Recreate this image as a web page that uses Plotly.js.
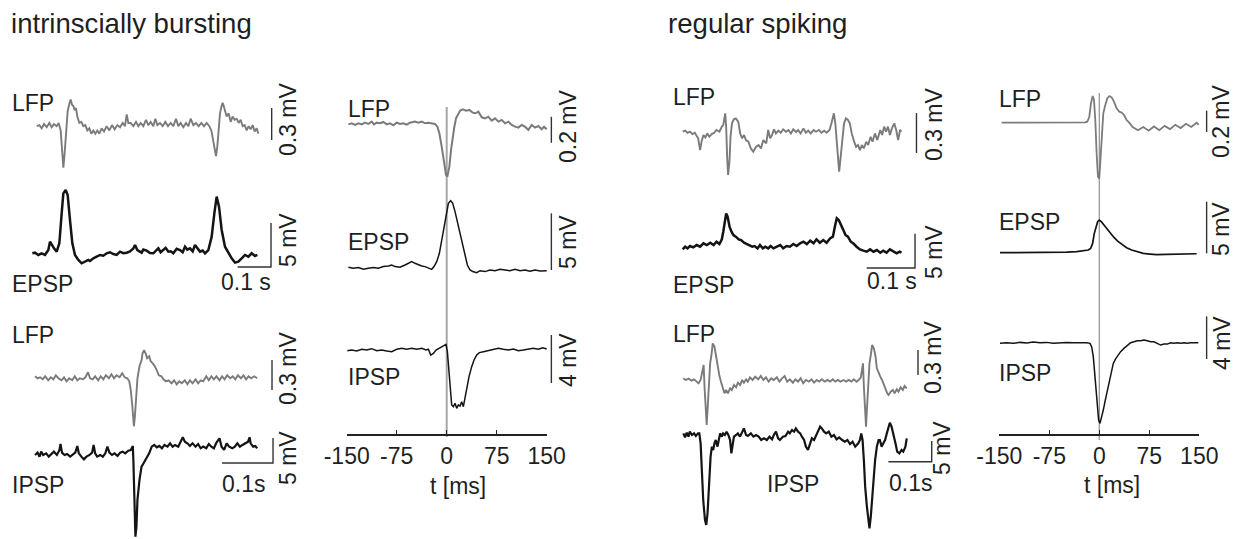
<!DOCTYPE html>
<html><head><meta charset="utf-8">
<script src="https://cdn.plot.ly/plotly-3.0.1.min.js"></script>
<style>html,body{margin:0;padding:0;background:#fff}#chart{width:1239px;height:539px}</style>
</head><body><div id="chart"></div>
<script>
// ================= DATA (time in ms, voltage in mV) =================
// Intrinsically bursting – raw traces, upper pair (LFP + EPSP)
const ibRawLfpA = [[0,0.02],[8,0.03],[15,0],[22,0.04],[30,0.01],[38,0.05],[45,0.01],[52,0.04],[60,0.02],[66,0.05],[72,-0.02],[76,-0.17],[80,-0.37],[84,-0.23],[88,-0.05],[93,0.16],[98,0.23],[102,0.27],[106,0.22],[110,0.21],[114,0.17],[118,0.19],[122,0.11],[128,0.05],[134,0.06],[140,0.02],[146,0.03],[152,-0.02],[158,0],[164,-0.05],[170,-0.02],[176,-0.05],[182,-0.02],[188,-0.05],[195,0],[202,-0.03],[210,0.02],[218,-0.02],[226,0.03],[234,-0.01],[242,0.03],[250,0.01],[258,0.05],[265,0.02],[270,0.13],[275,0.05],[282,0.05],[290,0.02],[298,0.06],[305,0.02],[312,0.05],[320,0.02],[328,0.08],[335,0.03],[342,0.06],[350,0.02],[356,0.09],[362,0.03],[370,0.05],[378,0.02],[386,0.06],[394,0.02],[402,0.05],[410,0.02],[418,0.09],[425,0.02],[432,0.05],[440,0.01],[448,0.05],[455,0.02],[462,0.09],[470,0.03],[478,0.05],[486,0.02],[494,0.05],[502,0.02],[510,0.05],[518,0.02],[524,-0.02],[530,-0.11],[534,-0.2],[538,-0.26],[542,-0.17],[546,-0.02],[550,0.14],[554,0.2],[558,0.24],[562,0.2],[566,0.16],[570,0.11],[576,0.14],[582,0.06],[588,0.11],[594,0.08],[600,0.09],[606,0.05],[612,0.08],[618,0.02],[624,0.03],[630,-0.02],[636,0.02],[642,-0.01],[648,0.03],[654,-0.03],[660,0],[665,-0.05]];
const ibRawEpsp = [[-13,0.08],[-5,0.15],[5,-0.11],[15,0.08],[25,-0.11],[35,0.45],[40,1.4],[45,1.02],[52,0.64],[60,0.27],[68,1.21],[75,4.62],[80,6.89],[87,7.27],[93,6.7],[100,3.86],[107,1.21],[115,-0.11],[125,-0.68],[135,-1.06],[145,-0.87],[155,-0.68],[160,-0.8],[170,-0.49],[180,-0.3],[190,-0.11],[200,-0.2],[210,0.08],[220,0.2],[230,0],[240,-0.1],[250,0.27],[260,0.1],[270,0.15],[280,0.3],[290,0.64],[295,1.02],[302,0.45],[315,0.15],[320,0.5],[330,0.38],[340,0.1],[350,0.08],[357,0.4],[365,0.64],[372,0.2],[380,0.45],[387,0.7],[395,0.27],[402,0.3],[410,0.08],[420,0.6],[430,0.45],[438,0.2],[445,0.83],[452,0.5],[460,0.64],[468,0.3],[475,1.02],[482,0.7],[490,0.27],[498,0.4],[505,0.08],[515,0.45],[525,1.97],[533,4.62],[540,6.52],[547,5.38],[555,2.73],[565,0.83],[575,0.08],[585,-0.49],[595,-0.98],[605,-0.87],[615,-0.49],[625,-0.11],[635,-0.3],[645,0.08],[655,-0.23],[662,-0.11]];
// Intrinsically bursting – raw traces, lower pair (LFP + IPSP)
const ibRawLfpB = [[0,0.01],[5,-0.01],[10,0],[15,-0.02],[20,0.01],[26,-0.03],[31,0],[36,-0.02],[41,0.02],[46,-0.01],[52,-0.03],[57,0],[62,-0.04],[67,-0.01],[73,-0.03],[78,0.01],[83,-0.03],[88,-0.01],[94,-0.02],[99,0],[104,0.05],[108,-0.01],[113,-0.02],[118,0.01],[124,-0.03],[129,0.01],[134,-0.02],[139,0.02],[145,-0.01],[150,0.03],[155,-0.01],[160,0.02],[166,0],[171,0.04],[176,0],[181,-0.01],[185,-0.04],[188,-0.13],[191,-0.29],[194,-0.49],[196,-0.39],[198,-0.19],[201,-0.01],[205,0.11],[209,0.17],[211,0.24],[214,0.27],[217,0.24],[220,0.19],[224,0.21],[227,0.16],[231,0.14],[234,0.12],[239,0.07],[243,0.02],[248,0.01],[252,-0.02],[257,-0.04],[262,-0.03],[268,-0.06],[273,-0.03],[278,-0.07],[283,-0.04],[288,-0.06],[294,-0.03],[299,-0.07],[304,-0.03],[309,-0.06],[315,-0.02],[320,-0.06],[325,-0.03],[330,-0.04],[336,0.01],[341,-0.03],[346,0.01],[351,-0.02],[356,0.01],[362,-0.03],[367,0.01],[372,-0.02],[377,0.02],[383,-0.01],[388,0.01],[393,-0.02],[398,0.02],[404,-0.01],[409,0.02],[414,-0.02],[419,0.01],[424,-0.01],[430,0.01],[436,-0.01]];
const ibRawIpsp = [[0,-0.33],[5,0.13],[9,-0.67],[12,0.33],[16,-0.33],[22,0],[27,-0.67],[32,-0.13],[37,0.33],[43,-0.33],[48,0.67],[50,1.87],[53,0.13],[58,-0.33],[63,-0.13],[69,-0.67],[74,-0.33],[79,0.13],[83,1.47],[86,0],[91,-0.67],[96,-1.2],[101,-0.67],[107,-0.33],[112,0.13],[115,1.67],[118,0],[122,-0.67],[128,-0.33],[133,-0.67],[138,0],[142,1.33],[146,0.13],[151,-0.33],[156,0],[162,-0.53],[167,0.13],[172,0.33],[177,0],[183,0.53],[188,0.67],[192,1.47],[193,-1.33],[195,-9.33],[197,-16.67],[199,-14.67],[201,-9.33],[205,-5.33],[209,-2.67],[213,-2],[216,-1.47],[219,-0.67],[224,0],[229,1.33],[234,1.67],[239,1.2],[244,1.47],[249,1],[254,1.67],[260,1.33],[265,2],[270,1.33],[275,1.67],[281,1.33],[286,2.33],[290,3.2],[294,2.33],[299,2],[304,1.47],[309,2],[315,1.33],[320,1.87],[325,1],[330,1.33],[336,1],[341,1.87],[346,1.33],[351,1],[356,2.13],[362,3],[366,1.33],[371,0.67],[376,2],[381,1.33],[387,1],[392,1.33],[397,2],[402,1.33],[407,1.67],[413,2],[418,2.33],[421,3.2],[423,2],[428,1.33],[432,1.47],[436,1]];
// Intrinsically bursting – spike-triggered averages (t relative to LFP spike)
const ibAvgLfp = [[-147.5,-0.008],[-142.5,0],[-137.5,-0.013],[-132.5,0],[-127.5,-0.008],[-122.5,0.005],[-117.5,-0.005],[-112.5,0.013],[-109,-0.008],[-105,0.005],[-100,0],[-95,0.01],[-90,-0.008],[-85,0],[-80,-0.015],[-75,0.005],[-70,-0.005],[-65,0],[-60,-0.01],[-55,0.005],[-47.5,0.013],[-42.5,0.005],[-37.5,0.013],[-32.5,0],[-27.5,0.005],[-22.5,0],[-17.5,-0.005],[-14,-0.026],[-11,-0.077],[-7.5,-0.18],[-4,-0.308],[-1,-0.397],[1,-0.41],[4,-0.333],[6.5,-0.205],[9,-0.103],[11.5,-0.026],[14,0.038],[17.5,0.077],[20,0.097],[24,0.108],[29,0.097],[34,0.103],[39,0.082],[43,0.077],[47.5,0.09],[52.5,0.046],[57.5,0.038],[62.5,0.051],[67.5,0.021],[72.5,0.038],[77.5,0.013],[82.5,0.026],[87.5,0],[92.5,0.013],[97.5,-0.013],[102.5,-0.026],[107.5,-0.033],[112.5,-0.013],[117.5,-0.026],[122.5,-0.051],[127.5,-0.013],[132.5,-0.033],[137.5,-0.021],[142.5,-0.046],[146,-0.026],[150,-0.046]];
const ibAvgEpsp = [[-147.5,0.09],[-140,0],[-132.5,0.06],[-125,-0.09],[-117.5,0],[-110,0.06],[-102.5,0],[-95,0.15],[-87.5,0.21],[-82.5,0.29],[-77.5,0.15],[-70,0.09],[-62.5,0.29],[-57.5,0.44],[-52.5,0.59],[-47.5,0.44],[-42.5,0.29],[-37.5,0.21],[-32.5,0.15],[-27.5,0],[-22.5,-0.09],[-19,0.15],[-15,0.59],[-11,1.32],[-7.5,2.5],[-4,3.68],[-1,4.85],[2.5,5.74],[6,5.97],[9,5.74],[12.5,5],[16,4.12],[20,3.09],[24,2.06],[27.5,1.18],[31,0.29],[35,-0.15],[39,-0.29],[45,-0.38],[50,-0.21],[57.5,-0.29],[65,-0.15],[72.5,-0.21],[80,-0.09],[87.5,-0.15],[95,-0.21],[102.5,-0.09],[110,-0.21],[117.5,-0.15],[125,-0.26],[132.5,-0.15],[140,-0.24],[150,-0.21]];
const ibAvgIpsp = [[-149,-0.06],[-142.5,0],[-135,-0.08],[-127.5,0.06],[-120,0],[-112.5,0.11],[-105,-0.06],[-97.5,0],[-90,-0.08],[-82.5,-0.14],[-75,0.06],[-67.5,0.14],[-60,0.06],[-52.5,0.14],[-45,0.06],[-37.5,0.14],[-31,0],[-27.5,0.06],[-24,-0.42],[-20,-0.28],[-16,0],[-11,0.14],[-7,0.28],[-4,0.33],[-1,0.47],[1,-0.14],[3,-1.39],[5,-3.33],[7.5,-4.58],[10,-4.72],[12.5,-4.44],[15,-4.86],[17.5,-4.58],[20,-4.67],[22.5,-4.31],[25,-4.72],[27.5,-4.03],[30,-3.06],[33.5,-2.22],[37.5,-1.39],[41,-0.83],[45,-0.42],[49,-0.22],[55,-0.14],[62.5,-0.06],[70,0],[77.5,0.14],[85,0.06],[92.5,0],[100,0.08],[107.5,-0.06],[115,0],[122.5,0.08],[130,0.14],[137.5,0.06],[144,0.19],[150,0.08]];
// Regular spiking – raw traces, upper pair (LFP + EPSP)
const rsRawLfpA = [[0,0],[5,0.008],[10,-0.008],[15,0],[20,-0.018],[25,-0.008],[29,-0.033],[32,-0.05],[36,-0.138],[39,-0.075],[43,-0.025],[47,-0.043],[51,-0.013],[55,-0.038],[60,-0.018],[65,-0.008],[70,0.013],[76,0],[81,0.038],[84,0.05],[88,0.138],[90,0.038],[92,-0.188],[94,-0.325],[97,-0.213],[99,-0.038],[102,0.063],[106,0.093],[110,0.1],[115,0.075],[119,-0.013],[123,-0.05],[127,-0.025],[131,-0.063],[136,-0.075],[141,-0.125],[146,-0.15],[152,-0.113],[157,-0.1],[162,-0.125],[167,-0.063],[173,-0.088],[177,0.013],[181,-0.05],[185,-0.025],[189,0.018],[193,-0.013],[198,0.008],[203,-0.008],[208,0.018],[214,0],[219,0.013],[224,-0.013],[229,0.018],[235,-0.003],[239,0.013],[244,-0.013],[250,0.025],[255,-0.008],[260,0.008],[265,-0.013],[271,0.013],[276,0],[282,0.013],[287,-0.008],[293,0.008],[298,-0.008],[304,0.013],[308,0.063],[311,0.125],[313,0.138],[316,0.063],[319,-0.05],[322,-0.213],[324,-0.3],[327,-0.188],[331,-0.025],[334,0.063],[338,0.1],[342,0.088],[346,0.063],[350,-0.013],[355,-0.075],[359,-0.113],[363,-0.1],[367,-0.138],[371,-0.1],[375,-0.125],[380,-0.075],[384,-0.1],[389,-0.038],[393,-0.075],[398,-0.013],[403,-0.063],[409,0.013],[413,-0.025],[417,0.038],[421,0],[425,0.038],[429,-0.025],[433,0.025],[438,0.063],[442,0.013],[446,-0.063],[450,0.013],[453,0]];
const rsRawEpsp = [[0,-0.39],[5,0],[10,-0.24],[15,0.1],[22,-0.1],[29,0.24],[36,0],[43,0.49],[50,0.24],[57,0.58],[64,0.24],[70,0.73],[76,0.39],[81,1.07],[84,2.18],[88,3.88],[90,4.85],[93,4.37],[97,2.91],[101,2.18],[105,1.7],[110,1.46],[116,1.07],[121,0.97],[127,0.58],[133,0.39],[138,0.24],[144,0],[149,0.1],[155,-0.24],[160,0.24],[166,-0.24],[171,0],[177,-0.24],[182,0.1],[188,-0.24],[195,0],[202,0.24],[208,-0.24],[215,0.1],[222,0],[229,0.39],[236,0.1],[243,0.49],[250,0.73],[257,0.39],[264,0.87],[271,0.49],[277,1.07],[284,0.58],[291,0.97],[298,0.58],[305,1.21],[311,1.46],[315,2.91],[319,4.13],[323,3.88],[327,3.16],[331,2.67],[337,1.7],[342,1.46],[348,0.73],[353,0.49],[360,0],[367,-0.39],[374,-0.58],[381,-0.73],[388,-0.39],[395,-0.73],[402,-0.49],[409,-0.87],[415,-0.58],[422,-0.87],[429,-0.39],[436,-0.73],[443,-0.97],[449,-0.73],[453,-0.87]];
// Regular spiking – raw traces, lower pair (LFP + IPSP)
const rsRawLfpB = [[0,0.02],[6,0],[12,0.016],[19,-0.008],[25,0.008],[31,-0.02],[35,-0.04],[40,0],[45,0.16],[47,0.18],[49,-0.08],[52,-0.36],[54,-0.54],[56,-0.36],[59,-0.04],[62,0.2],[65,0.3],[68,0.44],[72,0.4],[76,0.28],[79,0.16],[83,0.06],[87,-0.02],[91,-0.1],[95,-0.16],[99,-0.12],[103,-0.16],[108,-0.1],[112,-0.12],[117,-0.06],[122,-0.088],[126,-0.032],[131,-0.06],[136,0],[140,-0.032],[145,0.008],[149,-0.02],[154,0.032],[160,0],[166,0.04],[173,0.008],[179,0.048],[185,0],[191,0.032],[197,-0.02],[203,0.02],[209,0],[216,0.032],[222,-0.02],[228,0.02],[234,0.048],[240,-0.02],[246,0.008],[253,-0.032],[259,0.008],[265,-0.02],[271,0.02],[277,-0.04],[283,0],[290,-0.02],[296,0.008],[302,-0.032],[308,0],[314,-0.02],[320,0.008],[327,-0.02],[333,0],[339,-0.02],[345,0.008],[351,-0.02],[357,0],[363,-0.02],[370,0],[376,-0.02],[382,0],[388,-0.02],[394,0.008],[400,-0.02],[405,0],[410,0.032],[413,0.18],[415,0.2],[417,-0.08],[420,-0.36],[422,-0.56],[424,-0.36],[427,-0.04],[430,0.2],[433,0.3],[436,0.42],[440,0.38],[444,0.28],[447,0.14],[451,0.08],[455,0.04],[459,0],[463,-0.06],[467,-0.1],[471,-0.16],[474,-0.18],[479,-0.14],[484,-0.12],[488,-0.16],[493,-0.112],[497,-0.14],[502,-0.088],[507,-0.12],[511,-0.072],[516,-0.1]];
const rsRawIpsp = [[0,0.4],[4,-0.56],[8,0.56],[12,-0.4],[15,0.81],[20,0],[25,0.4],[29,-0.24],[34,0.4],[37,0.4],[40,-2.02],[43,-9.27],[46,-15.73],[50,-20.56],[53,-21.77],[56,-18.95],[59,-12.5],[63,-5.24],[66,-2.82],[69,-3.63],[72,-2.02],[75,-1.21],[79,-2.82],[82,-1.21],[85,0.4],[89,-0.4],[92,0.4],[96,0],[100,0.81],[104,0],[108,-1.21],[111,-4.44],[114,-2.82],[117,-0.4],[122,0],[126,0.4],[131,-0.4],[137,1.21],[140,1.61],[145,0],[149,-0.24],[156,0.4],[162,-0.4],[168,0],[174,-0.4],[180,-1.21],[186,-0.81],[193,-1.21],[199,-0.4],[205,-1.05],[209,0],[214,0.81],[219,-0.81],[223,-1.21],[230,-0.4],[236,-0.24],[242,0.81],[246,0.4],[251,1.21],[256,0.81],[260,1.61],[265,0.81],[270,0.4],[274,-0.4],[279,-1.21],[283,-2.82],[288,-3.63],[293,-2.02],[297,-0.81],[302,-1.21],[307,0],[311,1.21],[316,2.02],[320,1.61],[325,0.81],[330,0.4],[336,0.81],[342,-0.4],[348,0],[354,-1.05],[360,-0.56],[367,-1.21],[373,-1.61],[379,-1.21],[385,-2.18],[391,-1.61],[397,-2.82],[404,-2.02],[408,-1.21],[411,0.4],[414,-1.21],[417,-6.05],[420,-12.5],[424,-17.34],[427,-20.56],[430,-22.58],[433,-19.76],[436,-14.92],[439,-10.08],[443,-6.05],[447,-2.82],[451,-1.21],[454,-1.21],[458,-2.82],[462,-2.02],[466,-1.21],[470,0.4],[474,2.02],[477,2.98],[481,2.02],[485,0.4],[490,-2.02],[494,-4.03],[499,-4.44],[504,-3.63],[508,-4.03],[513,-2.82],[516,-0.81]];
// Regular spiking – spike-triggered averages
const rsAvgLfp = [[-146.5,0],[-139,0],[-129,0.003],[-119,0],[-109,0],[-99,0.003],[-89,0],[-79,0.003],[-69,0],[-59,0],[-49,0.003],[-39,0],[-29,0],[-21.5,0.003],[-18,0.009],[-15,0.056],[-12.5,0.181],[-10,0.25],[-8,0.213],[-6,0.025],[-4,-0.288],[-2,-0.506],[0,-0.522],[2,-0.35],[4,-0.1],[6,0.088],[9,0.166],[12,0.228],[15,0.25],[18.5,0.238],[22,0.197],[26,0.134],[30,0.103],[34,0.094],[37,0.072],[41,0.025],[45,0],[50,-0.04],[58,-0.07],[66,-0.04],[74,-0.075],[82,-0.035],[90,-0.07],[98,-0.03],[106,-0.06],[114,-0.02],[122,-0.05],[130,-0.01],[138,-0.04],[146,0],[149,-0.02]];
const rsAvgEpsp = [[-149,0],[-129,0],[-109,0.03],[-89,0],[-69,0.03],[-49,0.06],[-34,0.1],[-24,0.16],[-16.5,0.26],[-13,0.42],[-10,0.9],[-7.5,1.87],[-5,2.52],[-2.5,3],[0,3.16],[3,3],[7,2.68],[12,2.26],[17,1.87],[22,1.48],[28,1.1],[34,0.77],[41,0.48],[48.5,0.26],[56,0.1],[66,-0.06],[76,-0.13],[86,-0.19],[101,-0.16],[116,-0.13],[131,-0.13],[146,-0.1]];
const rsAvgIpsp = [[-149,-0.06],[-139,0],[-129,-0.06],[-119,0.03],[-109,-0.03],[-99,0.06],[-89,0],[-79,0.03],[-69,-0.06],[-59,0],[-49,0.03],[-39,0],[-29,0.03],[-19,0],[-14,-0.06],[-11.5,-0.38],[-9,-1.31],[-7,-2.88],[-5,-4.75],[-3,-6.31],[-1,-7.25],[1,-7.56],[3,-7.09],[6,-6.31],[9,-5.38],[12,-4.44],[15,-3.5],[18,-2.56],[21,-1.94],[24,-1.56],[28,-1.16],[32,-0.84],[37,-0.53],[42,-0.22],[47,0],[52,0.09],[57,0.19],[62,0.19],[67,0.25],[72,0.19],[77,0.09],[82,0.09],[87,-0.06],[92,-0.22],[97,-0.13],[102,-0.13],[107,0],[112,-0.06],[117,0],[122,-0.06],[127,0],[132,-0.06],[137,0],[142,-0.03],[148.5,0]];

// tick labels, titles, labels, scale bar sizes
const timeTickVals = [-150, -75, 0, 75, 150];
const timeTickText = ['-150', '-75', '0', '75', '150'];
const timeAxisTitle = 't [ms]';
const panelTitles = ['intrinscially bursting', 'regular spiking'];
const scaleBarSizes = { lfpRaw: 0.3, lfpAvg: 0.2, pspRaw: 5, epspAvg: 5, ipspAvg: 4, time: 100 };

// ================= GEOMETRY / STYLE =================
const W = 1239, H = 539;
const FONT = '"Liberation Sans", Arial, Helvetica, sans-serif';
const TXT = '#1f1f1f';
const GRAY = '#7b7b7b', BLACK = '#141414', BAR = '#333';

// time groups: pixel of t=0 and pixels per ms
const groups = [
  { px0: 36.67, k: 1/3 },     // x  : IB raw upper
  { px0: 35.0,  k: 0.5097 },  // x2 : IB raw lower
  { px0: 446.7, k: 2/3 },     // x3 : IB averages
  { px0: 682.7, k: 0.483 },   // x4 : RS raw upper
  { px0: 683.3, k: 0.433 },   // x5 : RS raw lower
  { px0: 1099.3, k: 2/3 }     // x6 : RS averages
];

// each trace: data, group, baseline pixel, pixels per mV, colour, width, scale bar
const specs = [
  { d: ibRawLfpA, g: 0, pyb: 128.3, s: 106.7, c: GRAY,  w: 1.9, bar: { t: 705, v0: -0.11, len: scaleBarSizes.lfpRaw } },
  { d: ibRawEpsp, g: 0, pyb: 254.0, s: 8.8,   c: BLACK, w: 2.5, bar: { t: 703, v0: -1.48, len: scaleBarSizes.pspRaw, tlen: scaleBarSizes.time } },
  { d: ibRawLfpB, g: 1, pyb: 377.3, s: 100,   c: GRAY,  w: 1.9, bar: { t: 465, v0: -0.127, len: scaleBarSizes.lfpRaw } },
  { d: ibRawIpsp, g: 1, pyb: 453.3, s: 5,     c: BLACK, w: 2.2, bar: { t: 467, v0: -1.94, len: scaleBarSizes.pspRaw, tlen: scaleBarSizes.time } },
  { d: ibAvgLfp,  g: 2, pyb: 123.3, s: 130,   c: GRAY,  w: 2.0, bar: { t: 157, v0: -0.15, len: scaleBarSizes.lfpAvg } },
  { d: ibAvgEpsp, g: 2, pyb: 268.3, s: 11.33, c: BLACK, w: 1.5, bar: { t: 157, v0: -0.15, len: scaleBarSizes.epspAvg } },
  { d: ibAvgIpsp, g: 2, pyb: 350.0, s: 12,    c: BLACK, w: 1.5, bar: { t: 157, v0: -2.75, len: scaleBarSizes.ipspAvg } },
  { d: rsRawLfpA, g: 3, pyb: 131.7, s: 133.3, c: GRAY,  w: 1.9, bar: { t: 484, v0: -0.16, len: scaleBarSizes.lfpRaw } },
  { d: rsRawEpsp, g: 3, pyb: 246.7, s: 6.87,  c: BLACK, w: 2.5, bar: { t: 481, v0: -3.1, len: scaleBarSizes.pspRaw, tlen: scaleBarSizes.time } },
  { d: rsRawLfpB, g: 4, pyb: 380.0, s: 83.3,  c: GRAY,  w: 1.9, bar: { t: 542, v0: 0.06, len: scaleBarSizes.lfpRaw } },
  { d: rsRawIpsp, g: 4, pyb: 435.0, s: 4.13,  c: BLACK, w: 2.2, bar: { t: 573.7, v0: -6.46, len: scaleBarSizes.pspRaw, tlen: scaleBarSizes.time } },
  { d: rsAvgLfp,  g: 5, pyb: 122.7, s: 106.7, c: GRAY,  w: 1.8, bar: { t: 161, v0: -0.087, len: scaleBarSizes.lfpAvg } },
  { d: rsAvgEpsp, g: 5, pyb: 252.7, s: 10.33, c: BLACK, w: 1.7, bar: { t: 161, v0: -0.06, len: scaleBarSizes.epspAvg } },
  { d: rsAvgIpsp, g: 5, pyb: 342.7, s: 10.67, c: BLACK, w: 1.5, bar: { t: 161, v0: -1.53, len: scaleBarSizes.ipspAvg } }
];

const axName = (letter, n) => n === 1 ? letter + 'axis' : letter + 'axis' + n;
const axId = (letter, n) => n === 1 ? letter : letter + n;

const layout = {
  width: W, height: H, autosize: false,
  margin: { l: 0, r: 0, t: 0, b: 0, pad: 0 },
  paper_bgcolor: '#ffffff', plot_bgcolor: 'rgba(0,0,0,0)',
  showlegend: false, hovermode: false,
  font: { family: FONT, color: TXT },
  annotations: [], shapes: []
};
const traces = [];

groups.forEach((g, i) => {
  layout[axName('x', i + 1)] = { domain: [0, 1], range: [-g.px0 / g.k, (W - g.px0) / g.k], visible: false, fixedrange: true };
});

specs.forEach((sp, i) => {
  const yn = i + 1;
  layout[axName('y', yn)] = { domain: [0, 1], range: [(sp.pyb - H) / sp.s, sp.pyb / sp.s], visible: false, fixedrange: true };
  const xid = axId('x', sp.g + 1), yid = axId('y', yn);
  traces.push({ type: 'scatter', mode: 'lines', x: sp.d.map(p => p[0]), y: sp.d.map(p => p[1]),
    xaxis: xid, yaxis: yid, line: { color: sp.c, width: sp.w, shape: 'linear' }, hoverinfo: 'skip' });
  const b = sp.bar;
  const bx = [b.t, b.t], by = [b.v0 + b.len, b.v0];
  if (b.tlen) { bx.push(b.t - b.tlen); by.push(b.v0); }
  traces.push({ type: 'scatter', mode: 'lines', x: bx, y: by, xaxis: xid, yaxis: yid,
    line: { color: BAR, width: 1.4 }, hoverinfo: 'skip' });
});

// visible time axes for the two averaged panels
const axBottomPx = 434;
[[2, 7, 15], [5, 8, 16]].forEach(([gi, xn, yn]) => {
  const g = groups[gi];
  const left = g.px0 - 150 * g.k, right = g.px0 + 150 * g.k;
  layout[axName('x', xn)] = {
    domain: [left / W, right / W], range: [-150, 150], anchor: axId('y', yn),
    showline: true, linecolor: '#222', linewidth: 1.5, mirror: false,
    ticks: 'inside', ticklen: 4, tickwidth: 1.3, tickcolor: '#222',
    tickvals: timeTickVals, ticktext: timeTickText, ticklabelstandoff: 1,
    tickfont: { family: FONT, size: 23, color: TXT },
    showgrid: false, zeroline: false, fixedrange: true
  };
  layout[axName('y', yn)] = { domain: [(H - axBottomPx) / H, (H - 100) / H], range: [0, 1], visible: false, anchor: axId('x', xn), fixedrange: true };
  traces.push({ type: 'scatter', mode: 'lines', x: [], y: [], xaxis: axId('x', xn), yaxis: axId('y', yn), hoverinfo: 'skip' });
});

// vertical t = 0 lines
layout.shapes.push({ type: 'line', xref: 'x3', yref: 'paper', x0: 0, x1: 0, y0: 1 - 437 / H, y1: 1 - 107 / H, line: { color: '#a6a6a6', width: 2 }, layer: 'below' });
layout.shapes.push({ type: 'line', xref: 'x6', yref: 'paper', x0: 0, x1: 0, y0: 1 - 440 / H, y1: 1 - 93 / H, line: { color: '#8f8f8f', width: 1.2 }, layer: 'below' });

// text
function txt(text, px, py, o = {}) {
  layout.annotations.push({
    text, x: px / W, y: 1 - py / H, xref: 'paper', yref: 'paper', showarrow: false,
    xanchor: o.xa || 'left', yanchor: 'middle', textangle: o.rot || 0, borderpad: 0,
    font: { family: FONT, size: o.size || 23, color: TXT }
  });
}
txt(panelTitles[0], 10, 23.5, { size: 27.6 });
txt(panelTitles[1], 667, 23.5, { size: 27.6 });

const traceLabels = ['LFP', 'EPSP', 'LFP', 'IPSP', 'LFP', 'EPSP', 'IPSP', 'LFP', 'EPSP', 'LFP', 'IPSP', 'LFP', 'EPSP', 'IPSP'];
const labelPos = [[11,103.5],[11,284],[11,335],[11,485],[347,108.5],[347,241.5],[347,376.5],[672,96.5],[672,285],[672,333.5],[766,483.5],[998,99],[998,222],[998,372.5]];
traceLabels.forEach((t, i) => txt(t, labelPos[i][0], labelPos[i][1]));

const scaleLabels = ['0.3 mV', '5 mV', '0.1 s', '0.3 mV', '5 mV', '0.1s', '0.2 mV', '5 mV', '4 mV', '0.3 mV', '5 mV', '0.1 s', '0.3 mV', '5 mV', '0.1s', '0.2 mV', '5 mV', '4 mV'];
const scalePos = [[288,119,1],[288,240,1],[246,282,0],[288,368,1],[288,458,1],[243.5,484,0],[568,126,1],[568,242,1],[568,360,1],[934,124,1],[934,252,1],[892,281,0],[933,357,1],[942,448,1],[910,483,0],[1221,121,1],[1221,229,1],[1222,343,1]];
scaleLabels.forEach((t, i) => txt(t, scalePos[i][0], scalePos[i][1], { xa: 'center', rot: scalePos[i][2] ? -90 : 0 }));

txt(timeAxisTitle, 458.5, 486, { xa: 'center' });
txt(timeAxisTitle, 1111.5, 485, { xa: 'center' });

Plotly.newPlot('chart', traces, layout, { staticPlot: true, displayModeBar: false, responsive: false });
</script></body></html>
